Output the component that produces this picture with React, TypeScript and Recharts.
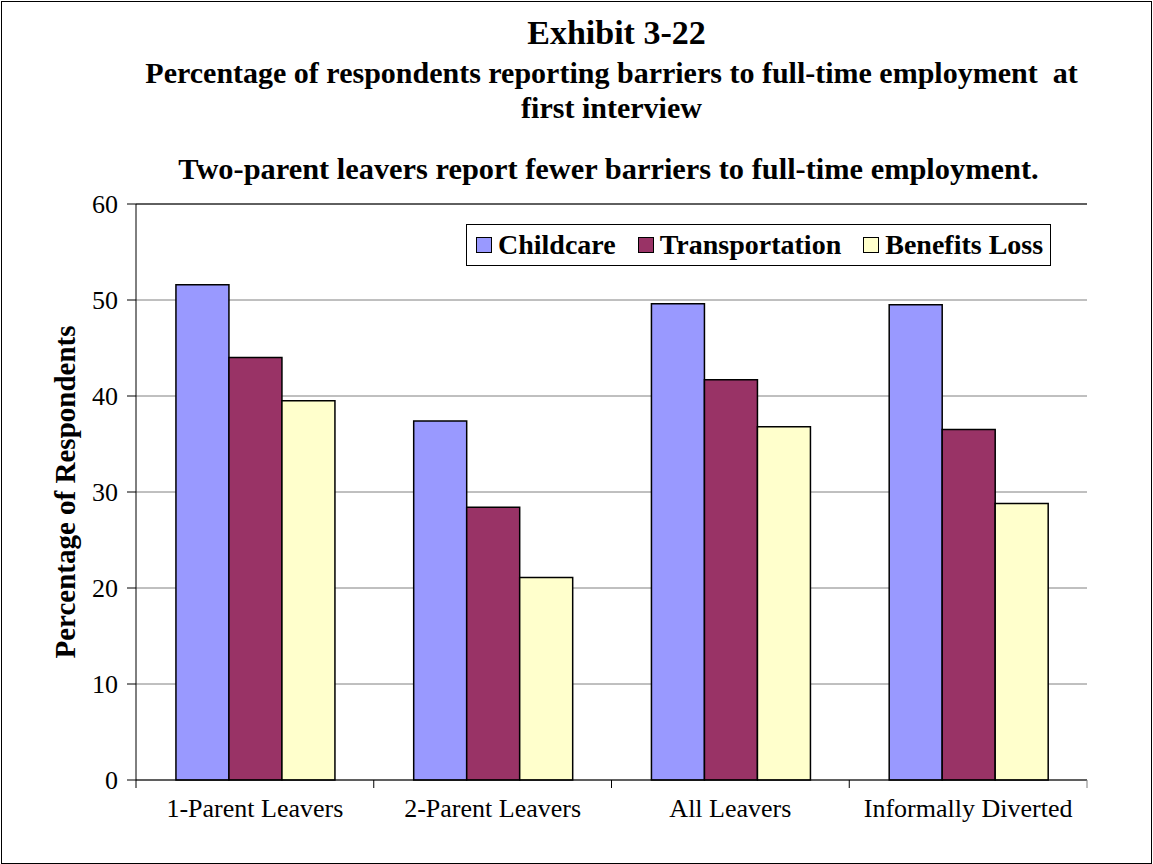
import { BarChart, Bar, XAxis, YAxis, CartesianGrid, ReferenceLine } from "recharts";

const CATEGORIES = ["1-Parent Leavers", "2-Parent Leavers", "All Leavers", "Informally Diverted"];
const CHILDCARE = [51.6, 37.4, 49.6, 49.5];
const TRANSPORTATION = [44.0, 28.4, 41.7, 36.5];
const BENEFITS_LOSS = [39.5, 21.1, 36.8, 28.8];
const Y_TICKS = [0, 10, 20, 30, 40, 50, 60];

const SERIES = [
  { key: "childcare", name: "Childcare", color: "#9999ff" },
  { key: "transportation", name: "Transportation", color: "#993366" },
  { key: "benefitsLoss", name: "Benefits Loss", color: "#ffffcc" },
];

const data = CATEGORIES.map((category, i) => ({
  category,
  childcare: CHILDCARE[i],
  transportation: TRANSPORTATION[i],
  benefitsLoss: BENEFITS_LOSS[i],
}));

const W = 1153;
const H = 864;
const PLOT_LEFT = 136;
const PLOT_RIGHT = 1087;
const PLOT_TOP = 204;
const PLOT_BOTTOM = 780;
const BAND = (PLOT_RIGHT - PLOT_LEFT) / CATEGORIES.length;
const FONT = '"Liberation Serif", "Times New Roman", serif';

function CategoryTick(props: any) {
  const { x, payload, index } = props;
  const half = BAND / 2;
  return (
    <g>
      <line x1={x - half} x2={x - half} y1={PLOT_BOTTOM} y2={PLOT_BOTTOM + 8} stroke="#000" />
      {index === CATEGORIES.length - 1 && (
        <line x1={x + half} x2={x + half} y1={PLOT_BOTTOM} y2={PLOT_BOTTOM + 8} stroke="#808080" />
      )}
      <text x={x} y={817} textAnchor="middle" fontSize={26} fontFamily={FONT} fill="#000">
        {payload.value}
      </text>
    </g>
  );
}

// lineHeight 0.85 keeps the stacked title lines from touching
const titleStyle = (top: number, size: number): React.CSSProperties => ({
  position: "absolute",
  top,
  left: (PLOT_LEFT + PLOT_RIGHT) / 2,
  transform: "translateX(-50%)",
  whiteSpace: "pre",
  fontWeight: "bold",
  fontSize: size,
  lineHeight: 0.85,
});

export default function App() {
  return (
    <div style={{ position: "absolute", left: 0, top: 0, width: W, height: H, fontFamily: FONT, color: "#000", background: "#fff" }}>
      <BarChart
        width={W}
        height={H}
        data={data}
        margin={{ top: PLOT_TOP, right: W - PLOT_RIGHT, bottom: H - PLOT_BOTTOM - 30, left: PLOT_LEFT - 60 }}
        barCategoryGap="16.8%"
        barGap={0}
      >
        <CartesianGrid vertical={false} stroke="#808080" />
        <XAxis
          dataKey="category"
          height={30}
          interval={0}
          tickLine={false}
          axisLine={{ stroke: "#000" }}
          tick={(p: any) => <CategoryTick {...p} />}
        />
        <YAxis
          width={60}
          domain={[0, 60]}
          ticks={Y_TICKS}
          interval={0}
          tickSize={9}
          tickMargin={9}
          axisLine={{ stroke: "#000" }}
          tickLine={{ stroke: "#000" }}
          tick={{ fontSize: 26, fill: "#000", fontFamily: FONT }}
        />
        <YAxis
          yAxisId="right"
          orientation="right"
          width={0}
          domain={[0, 60]}
          tick={false}
          tickLine={false}
          axisLine={{ stroke: "#808080" }}
        />
        <ReferenceLine y={60} stroke="#000" />
        {SERIES.map((s) => (
          <Bar key={s.key} dataKey={s.key} name={s.name} fill={s.color} stroke="#000" strokeWidth={1.5} isAnimationActive={false} />
        ))}
      </BarChart>

      <div style={{ ...titleStyle(19, 34), marginLeft: 5 }}>Exhibit 3-22</div>
      <div style={titleStyle(60, 30)}>Percentage of respondents reporting barriers to full-time employment  at</div>
      <div style={titleStyle(95, 30)}>first interview</div>
      <div style={{ ...titleStyle(157, 30.4), marginLeft: -3 }}>Two-parent leavers report fewer barriers to full-time employment.</div>

      <div
        style={{
          position: "absolute",
          left: 65,
          top: (PLOT_TOP + PLOT_BOTTOM) / 2,
          transform: "translate(-50%, -50%) rotate(-90deg)",
          whiteSpace: "nowrap",
          fontWeight: "bold",
          fontSize: 29,
          lineHeight: 1,
        }}
      >
        Percentage of Respondents
      </div>

      <div
        style={{
          position: "absolute",
          left: 466,
          top: 224,
          width: 585,
          height: 42,
          boxSizing: "border-box",
          border: "1px solid #000",
          background: "#fff",
          display: "flex",
          alignItems: "center",
          paddingLeft: 9,
          gap: 22,
          fontWeight: "bold",
          fontSize: 28,
        }}
      >
        {SERIES.map((s) => (
          <div key={s.key} style={{ display: "flex", alignItems: "center", gap: 6 }}>
            <span style={{ width: 16, height: 16, boxSizing: "border-box", background: s.color, border: "1px solid #000", display: "inline-block" }} />
            <span>{s.name}</span>
          </div>
        ))}
      </div>

      <div
        style={{
          position: "absolute",
          left: 1,
          top: 1,
          width: W - 2,
          height: H - 1,
          boxSizing: "border-box",
          border: "1px solid #000",
          pointerEvents: "none",
        }}
      />
    </div>
  );
}
